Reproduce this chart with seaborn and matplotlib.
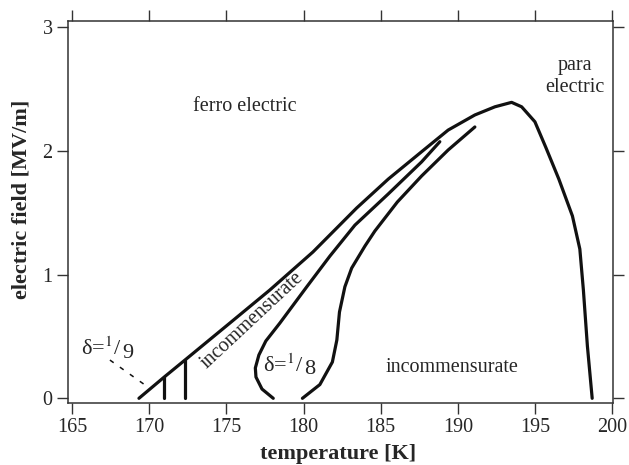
import matplotlib
matplotlib.use('Agg')
import matplotlib.pyplot as plt
import seaborn as sns
import pandas as pd

# phase boundaries: temperature [K], field [MV/m]
outer_T = [169.34, 170.98, 172.32, 175.23, 177.82, 180.61, 183.44, 185.49, 187.65,
           189.37, 191.10, 192.40, 193.48, 194.13, 194.99, 195.70, 196.54, 197.42,
           197.90, 198.13, 198.39, 198.70]
outer_E = [0.0, 0.172, 0.309, 0.608, 0.875, 1.182, 1.537, 1.771, 1.992,
           2.167, 2.289, 2.355, 2.391, 2.355, 2.234, 2.026, 1.771, 1.473,
           1.206, 0.875, 0.422, 0.0]

mid_T = [178.04, 177.31, 176.92, 176.88, 177.11, 177.56, 178.47, 180.20, 181.71,
         183.33, 185.49, 187.65, 188.83]
mid_E = [0.0, 0.075, 0.172, 0.245, 0.350, 0.463, 0.608, 0.899, 1.149,
         1.399, 1.651, 1.910, 2.073]

inner_T = [179.93, 181.06, 181.87, 182.16, 182.33, 182.68, 183.12, 183.98, 184.62,
           186.08, 187.65, 189.37, 191.10]
inner_E = [0.0, 0.111, 0.293, 0.471, 0.697, 0.901, 1.052, 1.230, 1.351,
           1.586, 1.796, 2.006, 2.192]

vline_T = [170.98, 172.32]
vline_top = [0.172, 0.309]

dash_T = [167.46, 169.73]
dash_E = [0.309, 0.108]

sns.set_theme(style='ticks')
plt.rcParams['font.family'] = ['Liberation Serif', 'DejaVu Serif']
plt.rcParams['mathtext.fontset'] = 'stix'

fig = plt.figure(figsize=(6.29, 4.65), dpi=100)
ax = fig.add_axes([0.108, 0.1333, 0.8666, 0.8215])

for T, E in [(outer_T, outer_E), (mid_T, mid_E), (inner_T, inner_E)]:
    df = pd.DataFrame({'T': T, 'E': E})
    sns.lineplot(data=df, x='T', y='E', sort=False, estimator=None,
                 color='#111111', lw=2.3, ax=ax)

for t, top in zip(vline_T, vline_top):
    df = pd.DataFrame({'T': [t, t], 'E': [0.0, top]})
    sns.lineplot(data=df, x='T', y='E', sort=False, estimator=None,
                 color='#111111', lw=2.3, ax=ax)

sns.lineplot(x=dash_T, y=dash_E, sort=False, estimator=None, color='#111111',
             lw=1.1, linestyle=(0, (3, 5)), ax=ax)

ax.set_xlim(164.74, 200.05)
ax.set_ylim(-0.038, 3.048)
ax.set_xticks(range(165, 201, 5))
ax.set_yticks([0, 1, 2, 3])
ax.tick_params(direction='out', top=True, right=True, length=8, width=1,
               labelsize=14.5, color='#333333', pad=3)
for s in ax.spines.values():
    s.set_visible(True)
    s.set_linewidth(1.1)
    s.set_color('#333333')

ax.set_xlabel('temperature [K]', fontsize=16, fontweight='bold')
ax.set_ylabel('electric field [MV/m]', fontsize=16, fontweight='bold')
ax.xaxis.set_label_coords(0.496, -0.108)
ax.yaxis.set_label_coords(-0.067, 0.533)

ax.text(176.2, 2.355, 'ferro electric', fontsize=14.5, ha='center', va='center')
ax.text(197.6, 2.6, 'para\nelectric', fontsize=14.5, ha='center', va='center',
        linespacing=1.2)
ax.text(176.7, 0.63, 'incommensurate', fontsize=14.5, ha='center', va='center',
        rotation=43, rotation_mode='anchor')
ax.text(189.6, 0.245, 'incommensurate', fontsize=14.5, ha='center', va='center')

# δ labels: superscript 1, then a full-size digit set slightly low
for x, y, d in [(165.6, 0.35, '9'), (177.37, 0.215, '8')]:
    t = ax.text(x, y, 'δ=$^{1}$/', fontsize=16, ha='left', va='baseline')
    ax.annotate(d, xy=(1, 0), xycoords=t, xytext=(0.3, -2),
                textcoords='offset points', fontsize=16, ha='left', va='bottom')

fig.savefig('out.png', dpi=100)
